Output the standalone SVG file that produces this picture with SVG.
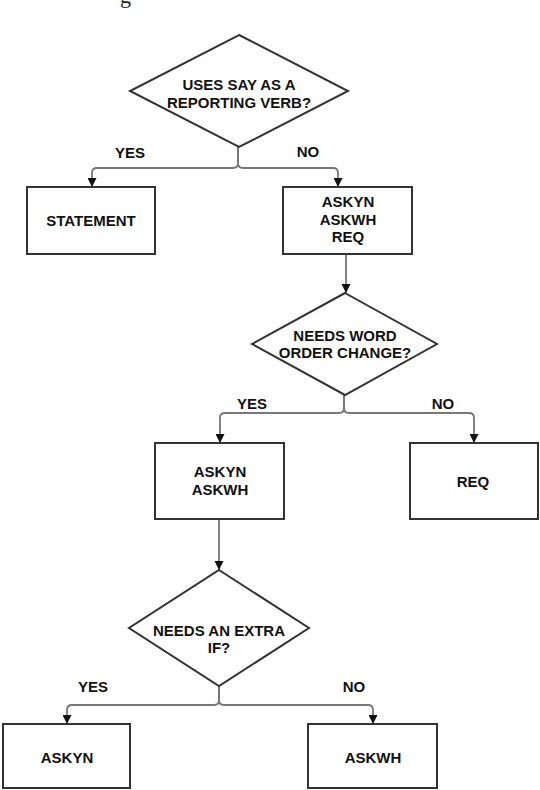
<svg xmlns="http://www.w3.org/2000/svg" width="540" height="790" viewBox="0 0 540 790">
<defs>
<style>
.shape{fill:#fff;stroke:#333;stroke-width:2}
.conn{fill:none;stroke:#777;stroke-width:1.8}
.lbl{font-family:"Liberation Sans",Arial,sans-serif;font-weight:bold;font-size:15px;fill:#111;text-anchor:middle}
.cap{font-family:"Liberation Serif","Times New Roman",serif;font-size:22px;fill:#222}
</style>
<marker id="arr" viewBox="0 0 10 10" refX="10" refY="5" markerWidth="9" markerHeight="9" markerUnits="userSpaceOnUse" orient="auto">
<path d="M0,0 L10,5 L0,10 Z" fill="#111"/>
</marker>
</defs>
<rect width="540" height="790" fill="#fff"/>
<text class="cap" x="120" y="3">g</text>

<g id="connectors">
<path class="conn" d="M238,147 V163 Q238,168 233,168 H97 Q92,168 92,173 V187" marker-end="url(#arr)"/>
<path class="conn" d="M238,147 V163 Q238,168 243,168 H333 Q338,168 338,173 V187" marker-end="url(#arr)"/>
<path class="conn" d="M346,254 V293" marker-end="url(#arr)"/>
<path class="conn" d="M344,395 V408 Q344,413 339,413 H225 Q220,413 220,418 V443" marker-end="url(#arr)"/>
<path class="conn" d="M344,395 V408 Q344,413 349,413 H469 Q474,413 474,418 V443" marker-end="url(#arr)"/>
<path class="conn" d="M219,519 V570" marker-end="url(#arr)"/>
<path class="conn" d="M219,686 V700 Q219,705 214,705 H72 Q67,705 67,710 V724" marker-end="url(#arr)"/>
<path class="conn" d="M219,686 V700 Q219,705 224,705 H368 Q373,705 373,710 V724" marker-end="url(#arr)"/>
<text class="lbl" x="130" y="158">YES</text>
<text class="lbl" x="308" y="157">NO</text>
<text class="lbl" x="252" y="409">YES</text>
<text class="lbl" x="443" y="409">NO</text>
<text class="lbl" x="93" y="692">YES</text>
<text class="lbl" x="354" y="692">NO</text>
</g>

<g id="d1">
<polygon class="shape" points="239,35 348,91 239,147 130,91"/>
<text class="lbl" x="239" y="90">USES SAY AS A</text>
<text class="lbl" x="239" y="108">REPORTING VERB?</text>
</g>

<g id="statement">
<rect class="shape" x="27" y="187" width="128" height="67"/>
<text class="lbl" x="91" y="226">STATEMENT</text>
</g>

<g id="all3">
<rect class="shape" x="283" y="187" width="129" height="67"/>
<text class="lbl" x="348" y="207">ASKYN</text>
<text class="lbl" x="348" y="224.5">ASKWH</text>
<text class="lbl" x="348" y="242">REQ</text>
</g>

<g id="d2">
<polygon class="shape" points="345,293 437,344 345,395 252,344"/>
<text class="lbl" x="345" y="341">NEEDS WORD</text>
<text class="lbl" x="345" y="358">ORDER CHANGE?</text>
</g>

<g id="askboth">
<rect class="shape" x="155" y="443" width="129" height="76"/>
<text class="lbl" x="220" y="477">ASKYN</text>
<text class="lbl" x="220" y="495">ASKWH</text>
</g>

<g id="req">
<rect class="shape" x="410" y="443" width="128" height="76"/>
<text class="lbl" x="473" y="487">REQ</text>
</g>

<g id="d3">
<polygon class="shape" points="219,570 309,628 219,686 129,628"/>
<text class="lbl" x="219" y="636">NEEDS AN EXTRA</text>
<text class="lbl" x="219" y="653">IF?</text>
</g>

<g id="askyn">
<rect class="shape" x="3" y="724" width="127" height="64"/>
<text class="lbl" x="67" y="763">ASKYN</text>
</g>

<g id="askwh">
<rect class="shape" x="308" y="724" width="129" height="64"/>
<text class="lbl" x="373" y="763">ASKWH</text>
</g>
</svg>
